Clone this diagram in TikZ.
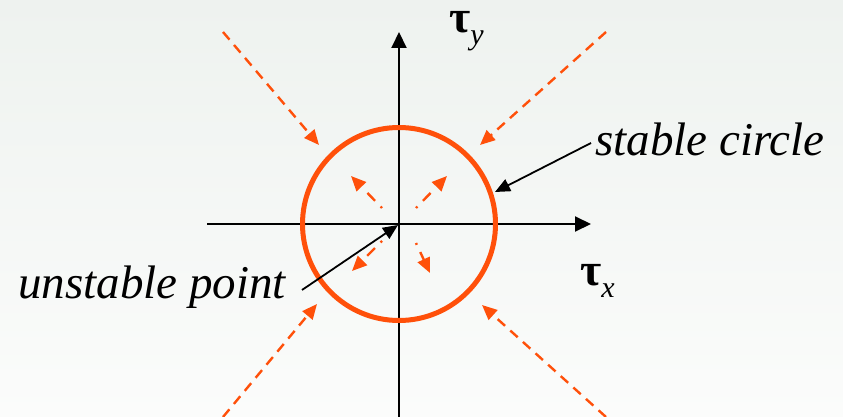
\documentclass[tikz,border=0pt]{standalone}
\usepackage{fontspec}
\setmainfont{Liberation Serif}
\newfontfamily\tnr{Liberation Serif}
\usetikzlibrary{arrows.meta}
\definecolor{flow}{RGB}{255,80,10}
\definecolor{bgtop}{RGB}{238,242,239}
\definecolor{bgbot}{RGB}{251,252,251}
\tikzset{
  axisline/.style={line width=2pt, -{Triangle[length=16pt,width=15pt]}},
  callout/.style={line width=1.8pt, -{Triangle[length=15pt,width=13pt]}},
  outerflow/.style={flow, line width=2.4pt, dash pattern=on 10pt off 7pt, -{Triangle[length=15pt,width=13pt]}},
  innerflow/.style={flow, line width=2.4pt, dash pattern=on 2pt off 8pt on 11pt off 30pt, -{Triangle[length=15pt,width=13pt]}},
  lbl/.style={font=\tnr\fontsize{47}{50}\selectfont\itshape, inner sep=0pt},
  taulbl/.style={font=\tnr\fontsize{46}{48}\selectfont, inner sep=0pt}
}
\begin{document}
\begin{tikzpicture}[x=1pt,y=-1pt]
\shade[top color=bgtop, bottom color=bgbot] (0,0) rectangle (843,417);
\useasboundingbox (0,0) rectangle (843,417);
% axes
\coordinate (O) at (399,224);
\coordinate (xl) at (207,224);
\coordinate (xr) at (591,224);
\coordinate (yb) at (399,418);
\coordinate (yt) at (399,32);
\draw[axisline] (xl) -- (xr);
\draw[axisline] (yb) -- (yt);
% stable circle
\node[circle, draw=flow, line width=5pt, minimum size=193pt, inner sep=0pt] (circ) at (O) {};
% outer flow arrows
\coordinate (a1) at (223,32);  \coordinate (b1) at (319,145);
\coordinate (a2) at (606,32);  \coordinate (b2) at (480,145);
\coordinate (a3) at (223,417); \coordinate (b3) at (317,304);
\coordinate (a4) at (606,417); \coordinate (b4) at (482,305);
\draw[outerflow] (a1) -- (b1);
\draw[outerflow] (a2) -- (b2);
\draw[outerflow] (a3) -- (b3);
\draw[outerflow] (a4) -- (b4);
% inner flow arrows
\coordinate (c1) at (382,208); \coordinate (d1) at (351,176);
\coordinate (c2) at (416,208); \coordinate (d2) at (447,176);
\coordinate (c3) at (382,241); \coordinate (d3) at (352,271);
\coordinate (c4) at (416,243); \coordinate (d4) at (430,273);
\draw[innerflow] (c1) -- (d1);
\draw[innerflow] (c2) -- (d2);
\draw[innerflow] (c3) -- (d3);
\draw[innerflow] (c4) -- (d4);
% labels
\node[taulbl, anchor=base west] (ty) at (449,33) {\textbf{τ}\raisebox{-12pt}{\fontsize{30}{32}\selectfont\itshape y}};
\node[taulbl, anchor=base west] (tx) at (580,285) {\textbf{τ}\raisebox{-12pt}{\fontsize{30}{32}\selectfont\itshape x}};
\node[lbl, anchor=base west] (sc) at (595,155) {stable circle};
\node[lbl, anchor=base west] (up) at (18,298) {unstable point};
\coordinate (scs) at (591,143);
\coordinate (sce) at (495,192);
\draw[callout] (scs) -- (sce);
\coordinate (ups) at (302,290);
\coordinate (upe) at (398,225);
\draw[callout] (ups) -- (upe);
\end{tikzpicture}
\end{document}
